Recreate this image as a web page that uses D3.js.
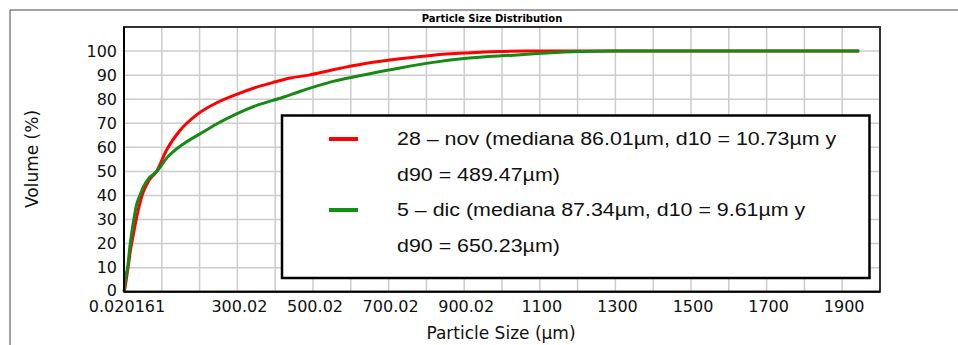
<!DOCTYPE html>
<html>
<head>
<meta charset="utf-8">
<script src="https://cdn.jsdelivr.net/npm/d3@7"></script>
<style>
  body { margin: 0; background: #fff; }
  svg { display: block; }
</style>
</head>
<body>
<div id="chart"></div>
<script>
// cumulative volume curves
const novSize = [0.02, 3, 6, 10.73, 18, 25, 35, 50, 65, 86, 113, 148, 192, 245, 298, 351, 395, 440, 489, 553, 642, 730, 818, 906, 990, 1066, 1945];
const novVolume = [0, 2, 5, 10, 18, 24, 32, 41, 46, 50, 59, 67, 73.5, 78.5, 82, 85, 87, 88.8, 90, 92.2, 94.9, 96.8, 98.3, 99.2, 99.8, 100, 100];

const dicSize = [0.02, 3, 6, 9.61, 15, 20, 27, 33, 42, 51, 65, 87, 113, 157, 201, 245, 298, 351, 421, 465, 553, 650, 730, 818, 906, 1030, 1118, 1206, 1294, 1945];
const dicVolume = [0, 4, 7.5, 10, 18, 24, 31, 36, 40, 43.5, 47, 50, 55.5, 61.4, 65.6, 69.7, 73.9, 77.4, 80.8, 83.2, 87.4, 90.6, 93, 95.3, 97, 98.3, 99.2, 99.8, 100, 100];

const xTickValues = [0.020161, 300.02, 500.02, 700.02, 900.02, 1100, 1300, 1500, 1700, 1900];
const xTickLabels = ['0.020161', '300.02', '500.02', '700.02', '900.02', '1100', '1300', '1500', '1700', '1900'];
const xGridValues = [100.02, 200.02, 300.02, 400.02, 500.02, 600.02, 700.02, 800.02, 900.02, 1000.02,
  1100, 1200, 1300, 1400, 1500, 1600, 1700, 1800, 1900];
const yTickValues = [0, 10, 20, 30, 40, 50, 60, 70, 80, 90, 100];

const legendLines = [
  { color: '#ff0000', text: '28 \u2013 nov (mediana 86.01\u00b5m, d10 = 10.73\u00b5m y' },
  { color: null, text: 'd90 = 489.47\u00b5m)' },
  { color: '#119111', text: '5 \u2013 dic (mediana 87.34\u00b5m, d10 = 9.61\u00b5m y' },
  { color: null, text: 'd90 = 650.23\u00b5m)' }
];

const width = 958;
const height = 345;
const margin = { top: 27, right: 78, bottom: 53.3, left: 124 };

const svg = d3.select('#chart').append('svg')
  .attr('width', width)
  .attr('height', height);

const x = d3.scaleLinear()
  .domain([0.020161, 2000])
  .range([margin.left, width - margin.right]);

const y = d3.scaleLinear()
  .domain([0, 110])
  .range([height - margin.bottom, margin.top]);

// outer frame (only top and left edges show)
svg.append('path')
  .attr('d', `M10,${height} V10 H${width}`)
  .attr('fill', 'none')
  .attr('stroke', '#444')
  .attr('stroke-width', 1);

// title
svg.append('text')
  .attr('x', 492)
  .attr('y', 22)
  .attr('text-anchor', 'middle')
  .style('font-family', 'DejaVu Sans')
  .style('font-weight', 'bold')
  .style('font-size', '10px')
  .text('Particle Size Distribution');

// grid
const grid = svg.append('g').attr('stroke', '#cccccc').attr('stroke-width', 1.5);
grid.selectAll('.gx')
  .data(xGridValues)
  .enter().append('line')
  .attr('x1', d => x(d)).attr('x2', d => x(d))
  .attr('y1', y(0)).attr('y2', y(110));
grid.selectAll('.gy')
  .data(yTickValues.slice(1))
  .enter().append('line')
  .attr('x1', x.range()[0]).attr('x2', x.range()[1])
  .attr('y1', d => y(d)).attr('y2', d => y(d));

// plot border
svg.append('rect')
  .attr('x', x.range()[0])
  .attr('y', y(110))
  .attr('width', x.range()[1] - x.range()[0])
  .attr('height', y(0) - y(110))
  .attr('fill', 'none')
  .attr('stroke', '#333')
  .attr('stroke-width', 2);

// curves
const line = d3.line()
  .x(d => x(d[0]))
  .y(d => y(d[1]))
  .curve(d3.curveMonotoneX);

svg.append('path')
  .datum(d3.zip(novSize, novVolume))
  .attr('d', line)
  .attr('fill', 'none')
  .attr('stroke', '#ff0000')
  .attr('stroke-width', 3);

svg.append('path')
  .datum(d3.zip(dicSize, dicVolume))
  .attr('d', line)
  .attr('fill', 'none')
  .attr('stroke', '#158a15')
  .attr('stroke-width', 3);

// axes lines
svg.append('line')
  .attr('x1', x.range()[0]).attr('x2', x.range()[0])
  .attr('y1', y(0)).attr('y2', y(110))
  .attr('stroke', '#000').attr('stroke-width', 2);
svg.append('line')
  .attr('x1', x.range()[0]).attr('x2', x.range()[1])
  .attr('y1', y(0)).attr('y2', y(0))
  .attr('stroke', '#000').attr('stroke-width', 2);

// tick labels
svg.append('g')
  .selectAll('text')
  .data(yTickValues)
  .enter().append('text')
  .attr('x', x.range()[0] - 7)
  .attr('y', d => y(d) - (d === 0 ? 1 : 0))
  .attr('dy', '0.36em')
  .attr('text-anchor', 'end')
  .style('font-family', 'DejaVu Sans')
  .style('font-size', '16px')
  .style('fill', '#111')
  .text(d => d);

svg.append('g')
  .selectAll('text')
  .data(xTickValues)
  .enter().append('text')
  .attr('x', (d, i) => x(d) + (i === 0 ? 3 : 2))
  .attr('y', y(0) + 14.5)
  .attr('dy', '0.36em')
  .attr('text-anchor', 'middle')
  .style('font-family', 'DejaVu Sans')
  .style('font-size', '16px')
  .style('fill', '#111')
  .text((d, i) => xTickLabels[i]);

// axis titles
svg.append('text')
  .attr('x', 501)
  .attr('y', 333)
  .attr('dy', '0.36em')
  .attr('text-anchor', 'middle')
  .style('font-family', 'DejaVu Sans')
  .style('font-size', '17px')
  .style('fill', '#111')
  .text('Particle Size (\u00b5m)');

svg.append('text')
  .attr('transform', 'translate(32,159) rotate(-90)')
  .attr('dy', '0.36em')
  .attr('text-anchor', 'middle')
  .style('font-family', 'DejaVu Sans')
  .style('font-size', '17px')
  .style('fill', '#111')
  .text('Volume (%)');

// legend
const legend = svg.append('g');
legend.append('rect')
  .attr('x', 282)
  .attr('y', 115.5)
  .attr('width', 587.5)
  .attr('height', 162.5)
  .attr('fill', '#fff')
  .attr('stroke', '#000')
  .attr('stroke-width', 2.5);

const rows = legend.selectAll('g.row')
  .data(legendLines)
  .enter().append('g')
  .attr('class', 'row')
  .attr('transform', (d, i) => `translate(0,${139 + i * 35.5})`);

rows.filter(d => d.color)
  .append('line')
  .attr('x1', 329).attr('x2', 358)
  .attr('y1', 0).attr('y2', 0)
  .attr('stroke', d => d.color)
  .attr('stroke-width', 4);

// the legend text in the reference is drawn wider than plain Arial
rows.append('text')
  .attr('transform', 'translate(397,0) scale(1.19,1)')
  .attr('dy', '0.36em')
  .style('font-family', 'Liberation Sans, Arial, sans-serif')
  .style('font-size', '18px')
  .style('fill', '#111')
  .text(d => d.text);
</script>
</body>
</html>
